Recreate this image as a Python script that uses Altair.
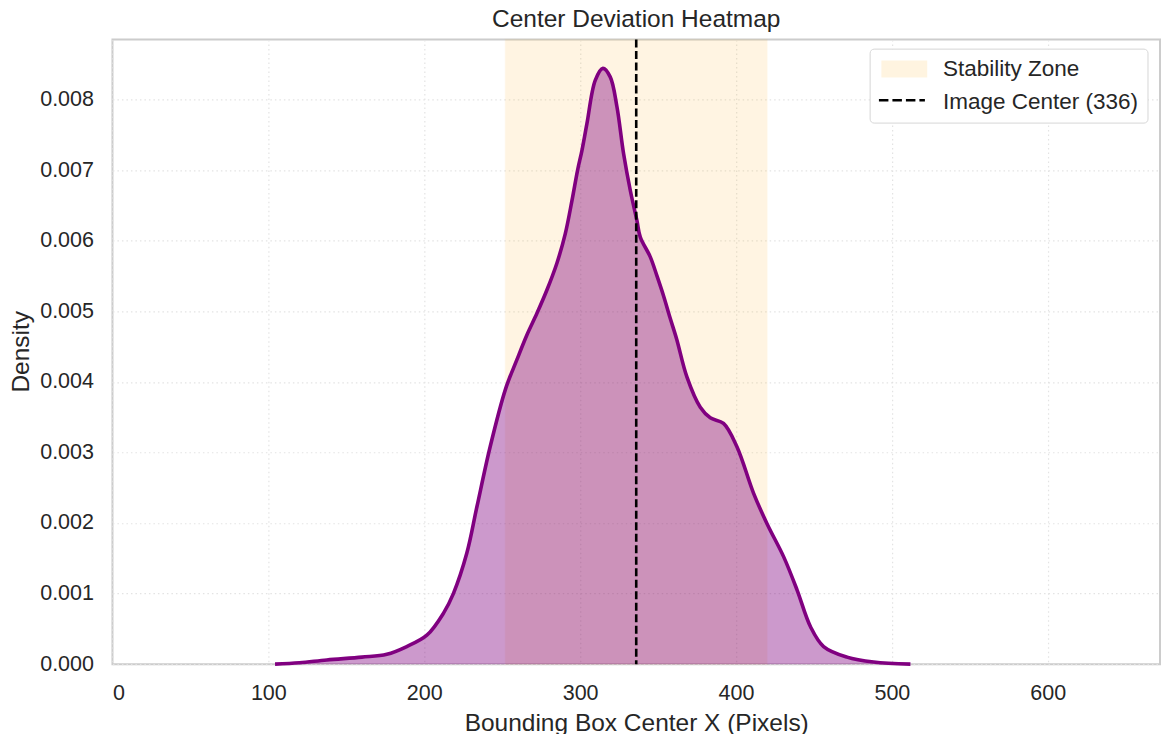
import altair as alt
import pandas as pd

# KDE curve
kde_x = [104.3, 120.0, 137.5, 160.0, 176.0, 188.8, 201.7, 212.3, 218.7, 227.3,
         233.8, 242.3, 252.2, 259.4, 265.8, 272.3, 278.7, 285.1, 290.5, 294.8,
         298.4, 301.2, 304.4, 309.7, 314.6, 319.3, 323.6, 327.9, 332.2, 336.4,
         338.6, 345.0, 349.3, 353.5, 357.8, 362.0, 368.5, 377.1, 383.5, 392.0,
         400.6, 411.3, 419.9, 430.6, 439.2, 447.8, 456.2, 471.2, 488.3, 511.9]
kde_y = [0.0, 0.00002, 0.00006, 0.0001, 0.00014, 0.00025, 0.00041, 0.00072, 0.001, 0.00157,
         0.00223, 0.00308, 0.0039, 0.00431, 0.00466, 0.00497, 0.0053, 0.00568, 0.0061, 0.00657,
         0.007, 0.00728, 0.00766, 0.00827, 0.00844, 0.00832, 0.0079, 0.00723, 0.00671, 0.00629,
         0.00605, 0.00577, 0.0055, 0.00522, 0.0049, 0.0046, 0.00407, 0.00364, 0.00349, 0.00341,
         0.00308, 0.00242, 0.00199, 0.00152, 0.00105, 0.00053, 0.00025, 0.0001, 0.00003, 0.0]

zone_start = [252]
zone_end = [420]
center_x = [336]
legend_labels = ["Stability Zone", "Image Center (336)"]
x_ticks = [0, 100, 200, 300, 400, 500, 600]
y_ticks = [0.0, 0.001, 0.002, 0.003, 0.004, 0.005, 0.006, 0.007, 0.008]

FONT = "Liberation Sans"
TXT = "#262626"

kde = pd.DataFrame({"x": kde_x, "y": kde_y})
zone = pd.DataFrame({"x": zone_start, "x2": zone_end, "label": [legend_labels[0]]})
center = pd.DataFrame({"x": center_x, "label": [legend_labels[1]]})

xscale = alt.Scale(domain=[0, 672], nice=False, zero=False)
yscale = alt.Scale(domain=[0, 0.00885], nice=False, zero=True)

base_x = alt.X(
    "x:Q", scale=xscale,
    axis=alt.Axis(values=x_ticks, title="Bounding Box Center X (Pixels)", format="d",
                  titleX=524, titleY=59, titleBaseline="middle"),
)

# Legend A: framed box with both labels, the zone patch as symbol of the first row
legend_a = alt.Legend(
    title=None,
    orient="none",
    legendX=757.5,
    legendY=9.2,
    padding=9,
    cornerRadius=4,
    strokeColor="#d6d6d6",
    fillColor="white",
    labelFont=FONT,
    labelFontSize=22.5,
    labelColor=TXT,
    labelOffset=42,
    labelLimit=400,
    rowPadding=10,
    symbolType="M-1,-1H4.4V1H-1Z",
    symbolSize=289,
    symbolOpacity=0.12,
    symbolStrokeWidth=0,
    zindex=1,
)

# Legend B: only the dashed line symbol, laid over the second row of legend A
legend_b = alt.Legend(
    title=None,
    orient="none",
    legendX=765.3,
    legendY=36.4,
    padding=0,
    labelExpr="''",
    labelOpacity=0,
    labelFontSize=1,
    symbolType="stroke",
    symbolSize=2116,
    symbolDash=[9.5, 4],
    symbolStrokeWidth=2.6,
    symbolOpacity=1,
    zindex=2,
)

zone_layer = alt.Chart(zone).mark_rect(opacity=0.11, strokeWidth=1.2, strokeOpacity=0.35,
                                       stroke="#FFA500").encode(
    x=base_x,
    x2="x2:Q",
    fill=alt.Fill("label:N", scale=alt.Scale(domain=legend_labels, range=["#FFA500", "transparent"]),
                  legend=legend_a),
)

area_layer = alt.Chart(kde).mark_area(color="#800080", opacity=0.4, interpolate="catmull-rom").encode(
    x=base_x,
    y=alt.Y("y:Q", scale=yscale,
            axis=alt.Axis(values=y_ticks, format=".3f", title="Density",
                          titleX=-91, titleY=312, titleBaseline="middle", titleAngle=-90)),
)

line_layer = alt.Chart(kde).mark_line(color="#800080", strokeWidth=3.6, interpolate="catmull-rom").encode(
    x=base_x,
    y=alt.Y("y:Q", scale=yscale),
)

rule_layer = alt.Chart(center).mark_rule(strokeWidth=2.6, strokeDash=[8, 3.5]).encode(
    x=base_x,
    stroke=alt.Stroke("label:N", scale=alt.Scale(domain=[legend_labels[1]], range=["#000000"]),
                      legend=legend_b),
)

chart = alt.layer(zone_layer, area_layer, line_layer, rule_layer).properties(
    width=1048,
    height=625,
    autosize=alt.AutoSizeParams(type="none"),
    padding={"left": 104.5, "top": 31.3, "right": 2, "bottom": 70},
    title=alt.Title("Center Deviation Heatmap", font=FONT, fontSize=24.5, fontWeight="normal",
                    color=TXT, anchor="middle", offset=-13.5, baseline="alphabetic", frame="group"),
).configure_view(
    stroke="#cccccc", strokeWidth=2,
).configure_axis(
    domain=False,
    ticks=False,
    tickSize=0,
    grid=True,
    gridColor="#e3e3e3",
    gridDash=[1.5, 3],
    gridWidth=1.2,
    labelFont=FONT,
    labelFontSize=21.5,
    labelColor=TXT,
    labelPadding=19,
    titleFont=FONT,
    titleFontSize=24.5,
    titleFontWeight="normal",
    titleColor=TXT,
).configure_axisX(
    labelPadding=18,
)

chart.save("out.html", embed_options={"renderer": "svg", "actions": False})
